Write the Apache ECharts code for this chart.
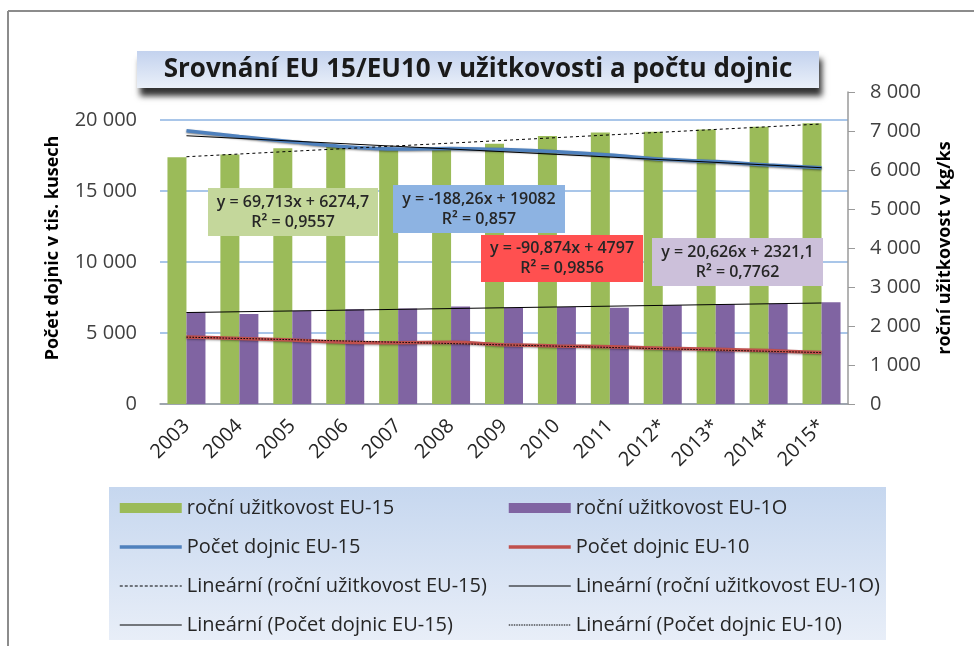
<!DOCTYPE html>
<html>
<head>
<meta charset="utf-8">
<script src="https://cdn.jsdelivr.net/npm/echarts@6/dist/echarts.min.js"></script>
<style>
  html, body { margin: 0; padding: 0; background: #fff; }
  #charts { width: 974px; height: 646px; }
</style>
</head>
<body>
<div id="charts"></div>
<script>
// categories
const years = ['2003', '2004', '2005', '2006', '2007', '2008', '2009', '2010', '2011', '2012*', '2013*', '2014*', '2015*']
// yearly yield kg/ks (right axis)
const yieldEU15 = [6330, 6400, 6560, 6620, 6560, 6560, 6670, 6870, 6960, 6980, 7040, 7110, 7200]
const yieldEU10 = [2360, 2310, 2390, 2430, 2450, 2500, 2470, 2490, 2470, 2530, 2560, 2570, 2610]
// number of cows in thousands (left axis)
const cowsEU15 = [19250, 18830, 18470, 18120, 17960, 18000, 17920, 17770, 17540, 17230, 17070, 16830, 16640]
const cowsEU10 = [4720, 4620, 4510, 4350, 4320, 4340, 4180, 4090, 4040, 3920, 3850, 3760, 3620]
// trend line ends (first and last year)
const trendYield15 = [6340, 7180]
const trendYield10 = [2345, 2590]
const trendCows15 = [18890, 16640]
const trendCows10 = [4710, 3620]
// equation labels
const eqYield15 = 'y = 69,713x + 6274,7\nR² = 0,9557'
const eqCows15 = 'y = -188,26x + 19082\nR² = 0,857'
const eqCows10 = 'y = -90,874x + 4797\nR² = 0,9856'
const eqYield10 = 'y = 20,626x + 2321,1\nR² = 0,7762'

const FONT = '"Open Sans"'
const last = years.length - 1
const ends = arr => [[0, arr[0]], [last, arr[1]]]
const thousands = v => String(v).replace(/\B(?=(\d{3})+$)/g, ' ')

const names = {
  y15: 'roční užitkovost EU-15',
  y10: 'roční užitkovost EU-1O',
  c15: 'Počet dojnic EU-15',
  c10: 'Počet dojnic EU-10',
  ty15: 'Lineární (roční užitkovost EU-15)',
  ty10: 'Lineární (roční užitkovost EU-1O)',
  tc15: 'Lineární (Počet dojnic EU-15)',
  tc10: 'Lineární (Počet dojnic EU-10)'
}

// legend entry for a line: only the stroke, no marker
const lineItem = (name, color, width, type) => ({
  name: name,
  itemStyle: { opacity: 0 },
  lineStyle: { color: color, width: width, type: type || 'solid' }
})

function eqBox(x, y, w, h, text, bg) {
  return {
    type: 'group', left: x, top: y, z: 100,
    children: [
      { type: 'rect', z: 100, shape: { x: 0, y: 0, width: w, height: h }, style: { fill: bg } },
      {
        type: 'text', z: 101, x: w / 2, y: h / 2,
        style: {
          text: text, fill: '#262626', font: `600 16px ${FONT}`,
          align: 'center', verticalAlign: 'middle', lineHeight: 20
        }
      }
    ]
  }
}

let chartsInstance = echarts.init(document.getElementById('charts'))
let option = {
  backgroundColor: '#fff',
  animation: false,
  textStyle: { fontFamily: FONT },
  grid: [
    { left: 160, right: 126, top: 120, height: 284 },
    { left: 160, right: 126, top: 92, height: 312 }
  ],
  xAxis: [
    {
      type: 'category', gridIndex: 0, data: years,
      axisLine: { lineStyle: { color: '#9a9a9a', width: 1.5 } },
      axisTick: { show: false },
      axisLabel: { rotate: 45, fontSize: 20, color: '#262626', margin: 19, interval: 0, fontFamily: FONT }
    },
    { type: 'category', gridIndex: 1, data: years, show: false }
  ],
  yAxis: [
    {
      type: 'value', gridIndex: 0, position: 'left', min: 0, max: 20000, interval: 5000,
      axisLine: { show: false }, axisTick: { show: false },
      splitLine: { lineStyle: { color: '#8db3e2', width: 1.5 } },
      axisLabel: { fontSize: 20, color: '#404040', margin: 23, formatter: thousands, fontFamily: FONT }
    },
    {
      type: 'value', gridIndex: 1, position: 'right', min: 0, max: 8000, interval: 1000,
      axisLine: { show: true, lineStyle: { color: '#9a9a9a', width: 1.5 } },
      axisTick: { show: true, length: 7, lineStyle: { color: '#9a9a9a' } },
      splitLine: { show: false },
      axisLabel: { fontSize: 20, color: '#404040', margin: 22, formatter: thousands, fontFamily: FONT }
    }
  ],
  legend: [
    {
      orient: 'vertical', left: 113, top: 493, itemWidth: 62, itemHeight: 10, itemGap: 19,
      textStyle: { fontSize: 20, color: '#262626', lineHeight: 20, fontFamily: FONT },
      data: [
        { name: names.y15, icon: 'rect' },
        lineItem(names.c15, '#4f81bd', 3.5),
        lineItem(names.ty15, '#000', 1, [3, 2]),
        lineItem(names.tc15, '#000', 1)
      ]
    },
    {
      orient: 'vertical', left: 502, top: 493, itemWidth: 62, itemHeight: 10, itemGap: 19,
      textStyle: { fontSize: 20, color: '#262626', lineHeight: 20, fontFamily: FONT },
      data: [
        { name: names.y10, icon: 'rect' },
        lineItem(names.c10, '#c0504d', 3.5),
        lineItem(names.ty10, '#000', 1),
        lineItem(names.tc10, '#000', 1, [1.5, 1])
      ]
    }
  ],
  series: [
    {
      name: names.y15, type: 'bar', xAxisIndex: 1, yAxisIndex: 1,
      data: yieldEU15, barWidth: 19, barGap: '0%', itemStyle: { color: '#9bbb59' }
    },
    {
      name: names.y10, type: 'bar', xAxisIndex: 1, yAxisIndex: 1,
      data: yieldEU10, barWidth: 19, barGap: '0%', itemStyle: { color: '#8064a2' }
    },
    {
      name: names.c15, type: 'line', xAxisIndex: 0, yAxisIndex: 0, data: cowsEU15,
      symbol: 'none', smooth: 0.3, z: 3, color: '#4f81bd',
      lineStyle: { color: '#4f81bd', width: 3.5, shadowColor: 'rgba(0,0,0,0.45)', shadowBlur: 2, shadowOffsetY: 1 }
    },
    {
      name: names.c10, type: 'line', xAxisIndex: 0, yAxisIndex: 0, data: cowsEU10,
      symbol: 'none', smooth: 0.3, z: 3, color: '#c0504d',
      lineStyle: { color: '#c0504d', width: 3.5, shadowColor: 'rgba(0,0,0,0.35)', shadowBlur: 2, shadowOffsetY: 1 }
    },
    {
      name: names.ty15, type: 'line', xAxisIndex: 1, yAxisIndex: 1, data: ends(trendYield15),
      symbol: 'none', z: 4, color: '#000',
      lineStyle: { color: '#000', width: 1, type: [3, 3] }
    },
    {
      name: names.ty10, type: 'line', xAxisIndex: 1, yAxisIndex: 1, data: ends(trendYield10),
      symbol: 'none', z: 4, color: '#000',
      lineStyle: { color: '#000', width: 1 }
    },
    {
      name: names.tc15, type: 'line', xAxisIndex: 0, yAxisIndex: 0, data: ends(trendCows15),
      symbol: 'none', z: 4, color: '#000',
      lineStyle: { color: '#000', width: 1 }
    },
    {
      name: names.tc10, type: 'line', xAxisIndex: 0, yAxisIndex: 0, data: ends(trendCows10),
      symbol: 'none', z: 4, color: '#000',
      lineStyle: { color: '#000', width: 1, type: [1.5, 1.5] }
    }
  ],
  graphic: [
    // outer frame
    { type: 'line', z: 0, shape: { x1: 8, y1: 11, x2: 974, y2: 11 }, style: { stroke: '#8c8c8c', lineWidth: 2 } },
    { type: 'line', z: 0, shape: { x1: 8, y1: 11, x2: 8, y2: 646 }, style: { stroke: '#8c8c8c', lineWidth: 2 } },
    // legend background
    {
      type: 'rect', z: 0, shape: { x: 109, y: 487, width: 777, height: 153 },
      style: {
        fill: new echarts.graphic.LinearGradient(0, 0, 0, 1, [
          { offset: 0, color: '#c6d7ef' },
          { offset: 1, color: '#e8eef8' }
        ])
      }
    },
    // title
    {
      type: 'group', left: 137, top: 51, z: 100,
      children: [
        {
          type: 'rect', z: 100, shape: { x: 0, y: 0, width: 682, height: 37 },
          style: {
            fill: new echarts.graphic.LinearGradient(0, 0, 0, 1, [
              { offset: 0, color: '#c3d2ee' },
              { offset: 1, color: '#eaf0f9' }
            ]),
            shadowColor: 'rgba(0,0,0,0.8)', shadowBlur: 6, shadowOffsetX: 3, shadowOffsetY: 8
          }
        },
        {
          type: 'text', z: 101, x: 341, y: 19,
          style: {
            text: 'Srovnání EU 15/EU10 v užitkovosti a počtu dojnic',
            fill: '#1a1a1a', font: `bold 26px ${FONT}`, align: 'center', verticalAlign: 'middle'
          }
        }
      ]
    },
    // axis titles
    {
      type: 'text', x: 53, y: 248, rotation: Math.PI / 2, z: 10,
      style: {
        text: 'Počet dojnic v tis. kusech', fill: '#000', font: `bold 18px ${FONT}`,
        align: 'center', verticalAlign: 'middle'
      }
    },
    {
      type: 'text', x: 945, y: 248, rotation: Math.PI / 2, z: 10,
      style: {
        text: 'roční užitkovost v kg/ks', fill: '#000', font: `bold 18px ${FONT}`,
        align: 'center', verticalAlign: 'middle'
      }
    },
    // trend equations
    eqBox(208, 188, 170, 48, eqYield15, '#c4d79b'),
    eqBox(393, 185, 172, 48, eqCows15, '#8db3e2'),
    eqBox(481, 235, 162, 47, eqCows10, '#ff5050'),
    eqBox(652, 238, 171, 48, eqYield10, '#ccc0da')
  ]
}
chartsInstance.setOption(option)
</script>
</body>
</html>
